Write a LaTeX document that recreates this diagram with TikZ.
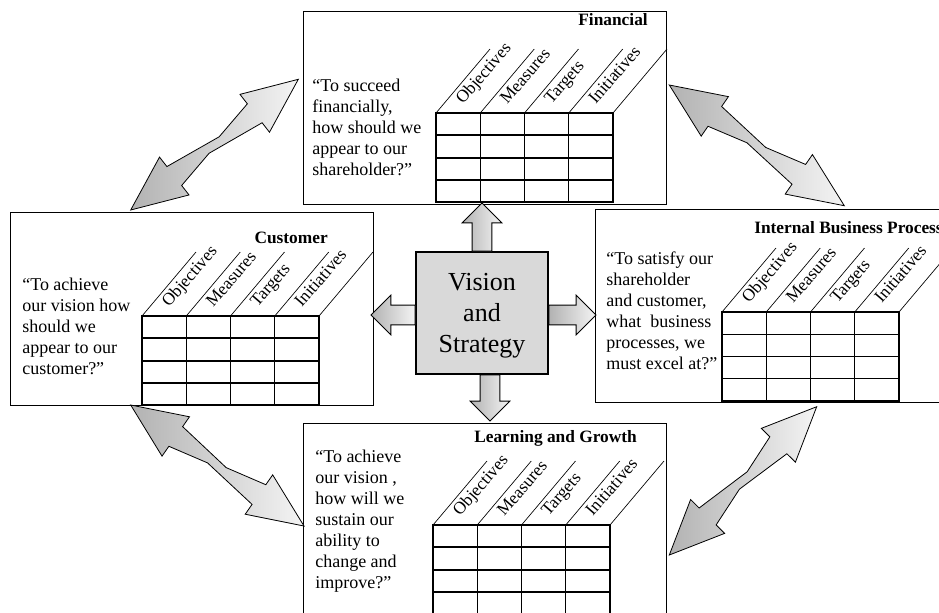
\documentclass[tikz,border=0pt]{standalone}
\usepackage{fontspec}
\setmainfont{Liberation Serif}
\usepackage{xcolor}
\definecolor{Black}{HTML}{000000}
\definecolor{White}{HTML}{FFFFFF}
\definecolor{CoreGray}{HTML}{D9D9D9}
\definecolor{ArrowDark}{HTML}{B2B2B2}
\definecolor{ArrowLight}{HTML}{F4F4F4}
\usepackage{tikz}
\usetikzlibrary{calc, shapes.arrows}
\tikzset{
  every picture/.style={font={\fontsize{13.5}{15.75}\selectfont}, >=stealth},
  panel/.style={draw=Black, line width=1pt, fill=White, minimum width=272.25pt,
    minimum height=144.75pt, anchor=north west, inner sep=0pt},
  quote/.style={align=left, anchor=north west, inner sep=0pt},
  title/.style={font={\fontsize{13}{15}\selectfont\bfseries}, inner sep=0pt},
  cell/.style={draw=Black, line width=0.9pt},
  slash/.style={draw=Black, line width=0.5pt},
  colhead/.style={font={\fontsize{13}{14}\selectfont}, rotate=49, anchor=base west, inner sep=0pt},
  core/.style={draw=Black, line width=0.9pt, fill=CoreGray, minimum width=99pt,
    minimum height=91.5pt, align=center, text depth=0pt, font={\fontsize{19.5}{23.25}\selectfont}},
  pointer/.style={single arrow, draw=Black, line width=0.6pt, left color=ArrowDark,
    right color=ArrowLight, inner sep=7.1pt, single arrow head extend=7.5pt,
    single arrow tip angle=90, anchor=tail},
  twoway/.style={draw=Black, line width=0.6pt, left color=ArrowDark, right color=ArrowLight}}

\begin{document}
\begin{tikzpicture}[x=0.75pt, y=-0.75pt]
    \clip (0,0) rectangle (939,612);

    \node[panel] (fin) at (303,11) {};
    \node[panel] (cust) at (10,212) {};
    \node[panel] (ibp) at (595,209) {};
    \node[panel] (lg) at (303,423) {};

    \foreach \tb/\tx/\ty/\rw in {fin/436/113/1.5pt, cust/142/316/1.5pt, ibp/722/312/0.9pt, lg/433/525/1.5pt} {
      \draw[cell] (\tx,\ty) rectangle ++(177,89);
      \foreach \i in {1,2,3} {
        \draw[cell] (\tx+44.25*\i,\ty) -- ++(0,89);
        \draw[cell, line width=\rw] (\tx,\ty+22.25*\i) -- ++(177,0);
      }
      \foreach \i in {0,...,4} {
        \draw[slash] (\tx+44.25*\i,\ty) -- ++(54,-64);
      }
      \foreach \lab [count=\i from 0] in {Objectives, Measures, Targets, Initiatives} {
        \node[colhead] (\tb-h\i) at (\tx+44.25*\i+27,\ty-8) {\lab};
      }
    }

    \node[title, anchor=east] (fint) at (648,20) {Financial};
    \node[title, anchor=east] (custt) at (328,238) {Customer};
    \node[title, anchor=west] (ibpt) at (754,228) {Internal Business Process};
    \node[title, anchor=east] (lgt) at (637,438) {Learning and Growth};

    \node[quote] (finq) at (312,79) {“To succeed\\financially,\\how should we\\appear to our\\shareholder?”};
    \node[quote] (custq) at (22,278) {“To achieve\\our vision how\\should we\\appear to our\\customer?”};
    \node[quote] (ibpq) at (606,252) {“To satisfy our\\shareholder\\and customer,\\what\ \ business\\processes, we\\must excel at?”};
    \node[quote] (lgq) at (315,450) {“To achieve\\our vision ,\\how will we\\sustain our\\ability to\\change and\\improve?”};

    \node[core] (vs) at (482,313) {Vision\\and\\Strategy};

    \node[pointer, rotate=90, minimum height=36pt] (toup) at (vs.north) {};
    \node[pointer, rotate=-90, minimum height=34.5pt] (todown) at ($(vs.south)+(8,0)$) {};
    \node[pointer, rotate=180, minimum height=33pt] (toleft) at ($(vs.west)+(0,2)$) {};
    \node[pointer, minimum height=35.25pt] (toright) at ($(vs.east)+(0,2)$) {};

    % tips of the two-way arrows
    \coordinate (c1) at (130.7,210);
    \coordinate (f1) at (298.3,79.3);
    \coordinate (f2) at (669.3,85);
    \coordinate (i1) at (844.3,205.7);
    \coordinate (c2) at (130.7,405);
    \coordinate (l1) at (304,526);
    \coordinate (i2) at (816.7,406.7);
    \coordinate (l2) at (669.3,555);

    \foreach \a/\b in {c1/f1, f2/i1, c2/l1, i2/l2} {
      \draw[twoway] (\a) -- ($(\a)!0.26!(\b)!18pt!90:(\b)$) -- ($(\a)!0.26!(\b)!9pt!90:(\b)$)
        -- ($(\a)!0.54!(\b)!2.5pt!90:(\b)$) -- ($(\a)!0.74!(\b)!9pt!90:(\b)$)
        -- ($(\a)!0.74!(\b)!18pt!90:(\b)$) -- (\b)
        -- ($(\a)!0.74!(\b)!18pt!-90:(\b)$) -- ($(\a)!0.74!(\b)!9pt!-90:(\b)$)
        -- ($(\a)!0.455!(\b)!2.6pt!-90:(\b)$) -- ($(\a)!0.26!(\b)!9pt!-90:(\b)$)
        -- ($(\a)!0.26!(\b)!18pt!-90:(\b)$) -- cycle;
    }
  \end{tikzpicture}
\end{document}
